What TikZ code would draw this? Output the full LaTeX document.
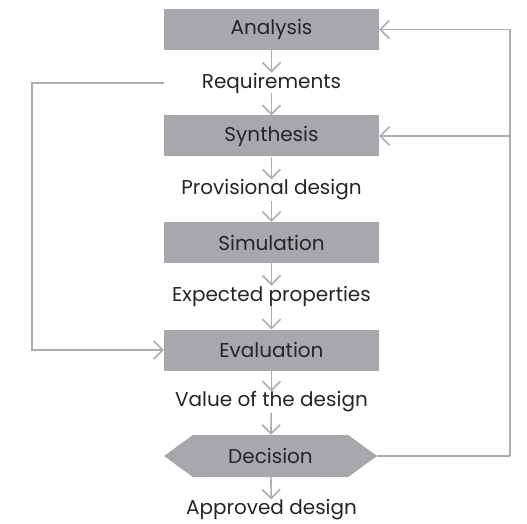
\documentclass[tikz,border=0pt]{standalone}
\usepackage{fontspec}
\setmainfont{Poppins}
\usepackage{xcolor}
\usepackage{tikz}
\usetikzlibrary{arrows.meta}
\usetikzlibrary{shapes.symbols}

\definecolor{boxgray}{RGB}{167,168,172}
\definecolor{linegray}{RGB}{172,173,176}
\definecolor{textgray}{RGB}{38,36,37}

\begin{document}
\begin{tikzpicture}[x=1pt, y=1pt,
        font=\fontsize{20}{24}\selectfont, text=textgray,
        stepbox/.style={fill=boxgray, minimum width=215pt, minimum height=41pt, inner sep=0pt},
        result/.style={inner sep=0pt},
        flow/.style={draw=linegray, line width=1.6pt, -{Straight Barb[length=9pt, width=18pt, line width=1.6pt]}},
        link/.style={draw=linegray, line width=1.6pt}]
        \useasboundingbox (0, 0) rectangle (527, 523);

        % The steps
        \node[stepbox] (ana) at (271.5, 493.5) {Analysis};
        \node[stepbox] (syn) at (271.5, 387) {Synthesis};
        \node[stepbox] (sim) at (271.5, 280.5) {Simulation};
        \node[stepbox] (eva) at (271.5, 173) {Evaluation};
        \node[stepbox, signal, signal to=west and east, signal pointer angle=72, minimum width=213pt, minimum height=42pt] (dec) at (270.5, 67) {Decision};

        % The results between the steps
        \node[result] (req) at (271.5, 440) {Requirements};
        \node[result] (pro) at (271.5, 333) {Provisional design};
        \node[result] (exp) at (271.5, 227) {Expected properties};
        \node[result] (val) at (271.5, 121) {Value of the design};
        \node[result] (app) at (271.5, 13) {Approved design};

        % The corners of the feedback lines
        \coordinate (left) at (32, 440);
        \coordinate (right) at (510, 67);

        % The main flow
        \draw[flow] (ana) -- (req);
        \draw[flow] (req) -- (syn);
        \draw[flow] (syn) -- (pro);
        \draw[flow] (pro) -- (sim);
        \draw[flow] (sim) -- (exp);
        \draw[flow] (exp) -- (eva);
        \draw[flow] (eva) -- (val);
        \draw[flow] (val) -- (dec);
        \draw[flow] (dec) -- (app);

        % The feedback lines
        \draw[flow] (req -| eva.west) -- (left) |- (eva);
        \draw[link] (dec.east) -- (right);
        \draw[flow] (right) |- (ana);
        \draw[flow] (right |- syn) -- (syn);
    \end{tikzpicture}
\end{document}
